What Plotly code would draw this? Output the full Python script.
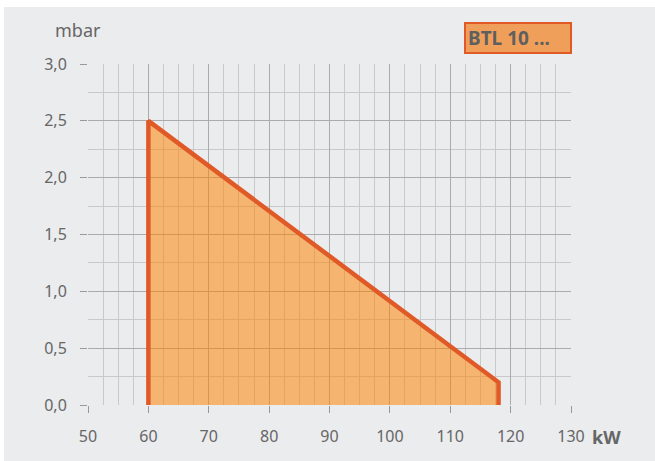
import plotly.graph_objects as go

# outline of the operating field
kw = [60, 60, 118, 118]
mbar = [0, 2.5, 0.2, 0]

x_ticks = [50, 60, 70, 80, 90, 100, 110, 120, 130]
y_ticks = [0, 0.5, 1.0, 1.5, 2.0, 2.5, 3.0]

BG = "#ebecee"
LINE = "#e05a28"
FILL = "rgba(254,131,0,0.53)"
TXT = "#666666"
FONT = "Noto Sans"

fig = go.Figure()
fig.add_trace(go.Scatter(
    x=kw, y=mbar, mode="lines", fill="toself",
    fillcolor=FILL, line=dict(width=0), hoverinfo="skip",
))
fig.add_trace(go.Scatter(
    x=kw, y=mbar, mode="lines",
    line=dict(color=LINE, width=4.5), hoverinfo="skip",
))

axis_common = dict(
    showgrid=True, gridcolor="#ababab", gridwidth=1,
    zeroline=False, showline=False,
    ticks="outside", ticklen=7, tickcolor="#999999", tickwidth=1,
    tickfont=dict(family=FONT, size=16, color=TXT),
)
fig.update_xaxes(
    range=[50, 130], tickvals=x_ticks, ticklabelstandoff=10,
    minor=dict(dtick=2.5, showgrid=True, gridcolor="#c9c9c9", gridwidth=1),
    **axis_common,
)
fig.update_yaxes(
    range=[0, 3], tickvals=y_ticks, tickformat=".1f", ticklabelstandoff=10,
    minor=dict(dtick=0.25, showgrid=True, gridcolor="#c9c9c9", gridwidth=1),
    **axis_common,
)

fig.add_annotation(
    x=-0.02, y=1.1, xref="paper", yref="paper", xanchor="center", yanchor="middle",
    text="mbar", showarrow=False,
    font=dict(family=FONT, size=18, color=TXT),
)
fig.add_annotation(
    x=1.0745, y=-0.094, xref="paper", yref="paper", xanchor="center", yanchor="middle",
    text="<b>kW</b>", showarrow=False,
    font=dict(family=FONT, size=18, color=TXT),
)
fig.add_annotation(
    x=1.002, y=1.076, xref="paper", yref="paper", xanchor="right", yanchor="middle",
    text="<b>BTL 10 ...</b>", showarrow=False, align="left",
    font=dict(family=FONT, size=19, color="#5f5f5f"),
    bgcolor="#ef9f5a", bordercolor=LINE, borderwidth=2, borderpad=2,
    width=100, height=24,
)

fig.update_layout(
    width=651, height=454,
    margin=dict(l=84, r=84, t=57, b=56),
    paper_bgcolor=BG, plot_bgcolor=BG,
    showlegend=False,
    separators=",.",
)

# white edge above and to the left of the grey panel
fig.write_html("out.html", post_script="document.body.style.margin='7px 0 0 4px';")
